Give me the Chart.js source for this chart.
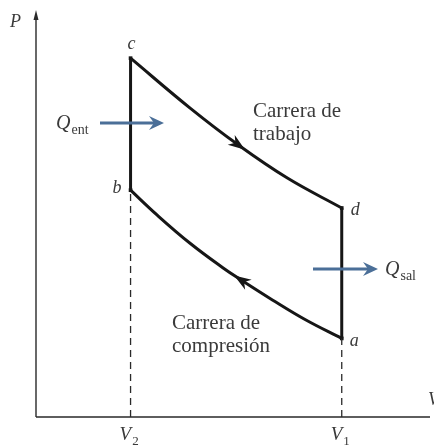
<!DOCTYPE html>
<html>
<head>
<meta charset="utf-8">
<script src="https://cdn.jsdelivr.net/npm/chart.js@4.4.1/dist/chart.umd.min.js"></script>
<style>
  html, body { margin: 0; padding: 0; background: #fff; }
  #wrap { width: 434px; height: 446px; }
</style>
</head>
<body>
<div id="wrap"><canvas id="myChart"></canvas></div>
<script>
// volumes (arbitrary units) and pressures
const V2 = 2.4;
const V1 = 7.76;

// c -> d : carrera de trabajo (expansion)
const expansionV = [2.4, 3.92, 5.13, 6.38, 7.76];
const expansionP = [8.86, 7.62, 6.72, 5.9, 5.16];

// b -> a : carrera de compresion (drawn from b to a, arrow points back to b)
const compressionV = [2.4, 3.07, 3.91, 4.75, 5.21, 6.0, 6.84, 7.76];
const compressionP = [5.6, 4.99, 4.29, 3.68, 3.38, 2.89, 2.4, 1.94];

// state points
const stateNames = ["a", "b", "c", "d"];
const stateV = [V1, V2, V2, V1];
const stateP = [1.94, 5.6, 8.86, 5.16];

// where the direction arrows sit on the curves (index into the arrays)
const expansionArrowAt = 2;
const compressionArrowAt = 4;

const toPoints = (xs, ys) => xs.map((x, i) => ({ x: x, y: ys[i] }));

const LINE = "#161616";
const TEXT = "#3a3a3a";
const BLUE = "#4b6f98";
const SERIF = "'Liberation Serif', 'DejaVu Serif', serif";

function arrowHead(ctx, x, y, angle, len, half) {
  ctx.save();
  ctx.translate(x, y);
  ctx.rotate(angle);
  ctx.beginPath();
  ctx.moveTo(len * 0.5, 0);
  ctx.lineTo(-len * 0.5, -half);
  ctx.lineTo(-len * 0.2, 0);
  ctx.lineTo(-len * 0.5, half);
  ctx.closePath();
  ctx.fill();
  ctx.restore();
}

function blueArrow(ctx, x0, x1, y) {
  ctx.save();
  ctx.strokeStyle = BLUE;
  ctx.fillStyle = BLUE;
  ctx.lineWidth = 3.2;
  ctx.beginPath();
  ctx.moveTo(x0, y);
  ctx.lineTo(x1 - 8, y);
  ctx.stroke();
  ctx.beginPath();
  ctx.moveTo(x1, y);
  ctx.lineTo(x1 - 15, y - 7);
  ctx.lineTo(x1 - 10, y);
  ctx.lineTo(x1 - 15, y + 7);
  ctx.closePath();
  ctx.fill();
  ctx.restore();
}

function subText(ctx, main, sub, x, y, mainSize, subSize) {
  ctx.font = "italic " + mainSize + "px " + SERIF;
  ctx.fillText(main, x, y);
  const w = ctx.measureText(main).width;
  ctx.font = subSize + "px " + SERIF;
  ctx.fillText(sub, x + w + 1, y + 5);
}

const diagram = {
  id: "diagram",
  beforeDatasetsDraw(chart) {
    const { ctx, chartArea } = chart;
    const xs = chart.scales.x;
    const ys = chart.scales.y;
    const ox = xs.getPixelForValue(0);
    const oy = ys.getPixelForValue(0);
    ctx.save();
    ctx.strokeStyle = "#2a2a2a";
    ctx.fillStyle = "#2a2a2a";
    ctx.lineWidth = 1.4;
    ctx.beginPath();
    ctx.moveTo(ox, oy);
    ctx.lineTo(ox, chartArea.top + 2);
    ctx.moveTo(ox, oy);
    ctx.lineTo(chartArea.right, oy);
    ctx.stroke();
    // arrow tip on the P axis
    ctx.beginPath();
    ctx.moveTo(ox, chartArea.top - 2);
    ctx.lineTo(ox - 2.5, chartArea.top + 8);
    ctx.lineTo(ox + 2.5, chartArea.top + 8);
    ctx.closePath();
    ctx.fill();
    ctx.restore();
  },
  afterDatasetsDraw(chart) {
    const { ctx } = chart;
    const xs = chart.scales.x;
    const ys = chart.scales.y;
    const px = (v) => xs.getPixelForValue(v);
    const py = (p) => ys.getPixelForValue(p);

    // direction arrows on the curves
    ctx.save();
    ctx.fillStyle = LINE;
    let i = expansionArrowAt;
    let ang = Math.atan2(
      py(expansionP[i + 1]) - py(expansionP[i - 1]),
      px(expansionV[i + 1]) - px(expansionV[i - 1])
    );
    arrowHead(ctx, px(expansionV[i]), py(expansionP[i]), ang, 17, 6);
    i = compressionArrowAt;
    ang = Math.atan2(
      py(compressionP[i - 1]) - py(compressionP[i + 1]),
      px(compressionV[i - 1]) - px(compressionV[i + 1])
    );
    arrowHead(ctx, px(compressionV[i]), py(compressionP[i]), ang, 17, 6);
    ctx.restore();

    // heat arrows
    blueArrow(ctx, 100, 164, 123);
    blueArrow(ctx, 313, 378, 269);

    ctx.save();
    ctx.fillStyle = TEXT;
    ctx.textBaseline = "alphabetic";

    // state labels
    ctx.font = "italic 18px " + SERIF;
    ctx.textAlign = "center";
    ctx.fillText(stateNames[2], px(stateV[2]) + 1, py(stateP[2]) - 9);
    ctx.textAlign = "right";
    ctx.fillText(stateNames[1], px(stateV[1]) - 9, py(stateP[1]) + 3);
    ctx.textAlign = "left";
    ctx.fillText(stateNames[3], px(stateV[3]) + 9, py(stateP[3]) + 7);
    ctx.fillText(stateNames[0], px(stateV[0]) + 8, py(stateP[0]) + 8);

    // axis labels
    ctx.font = "italic 18px " + SERIF;
    ctx.fillText("P", 10, 27);
    ctx.fillText("V", 428, 405);
    subText(ctx, "V", "2", px(V2) - 11, 440, 19, 13);
    subText(ctx, "V", "1", px(V1) - 11, 440, 19, 13);

    // heat labels
    subText(ctx, "Q", "ent", 56, 129, 20, 14);
    subText(ctx, "Q", "sal", 385, 275, 20, 14);

    // stroke names
    ctx.font = "21px " + SERIF;
    ctx.fillText("Carrera de", 253, 117);
    ctx.fillText("trabajo", 253, 140);
    ctx.fillText("Carrera de", 172, 329);
    ctx.fillText("compresi\u00f3n", 172, 352);
    ctx.restore();
  },
};

const ctx = document.getElementById("myChart").getContext("2d");

new Chart(ctx, {
  type: "scatter",
  data: {
    datasets: [
      {
        label: "V2 guide",
        data: [{ x: V2, y: 0 }, { x: V2, y: stateP[1] }],
        showLine: true,
        borderColor: "#2a2a2a",
        borderWidth: 1.3,
        borderDash: [7, 5],
        pointRadius: 0,
      },
      {
        label: "V1 guide",
        data: [{ x: V1, y: 0 }, { x: V1, y: stateP[0] }],
        showLine: true,
        borderColor: "#2a2a2a",
        borderWidth: 1.3,
        borderDash: [7, 5],
        pointRadius: 0,
      },
      {
        label: "Carrera de trabajo",
        data: toPoints(expansionV, expansionP),
        showLine: true,
        tension: 0.4,
        borderColor: LINE,
        borderWidth: 3,
        pointRadius: 0,
      },
      {
        label: "Carrera de compresion",
        data: toPoints(compressionV, compressionP),
        showLine: true,
        tension: 0.4,
        borderColor: LINE,
        borderWidth: 3,
        pointRadius: 0,
      },
      {
        label: "b-c",
        data: [{ x: V2, y: stateP[1] }, { x: V2, y: stateP[2] }],
        showLine: true,
        borderColor: LINE,
        borderWidth: 3,
        pointRadius: 0,
      },
      {
        label: "d-a",
        data: [{ x: V1, y: stateP[3] }, { x: V1, y: stateP[0] }],
        showLine: true,
        borderColor: LINE,
        borderWidth: 3,
        pointRadius: 0,
      },
      {
        label: "estados",
        data: toPoints(stateV, stateP),
        showLine: false,
        pointStyle: "rect",
        pointRadius: 2.6,
        backgroundColor: LINE,
        borderColor: LINE,
        borderWidth: 0,
      },
    ],
  },
  options: {
    responsive: true,
    maintainAspectRatio: false,
    animation: false,
    layout: {
      padding: { left: 36, right: 0, top: 12, bottom: 29 },
    },
    scales: {
      x: { type: "linear", min: 0, max: 10, display: false },
      y: { type: "linear", min: 0, max: 10, display: false },
    },
    plugins: {
      legend: { display: false },
      tooltip: { enabled: false },
    },
  },
  plugins: [diagram],
});
</script>
</body>
</html>
